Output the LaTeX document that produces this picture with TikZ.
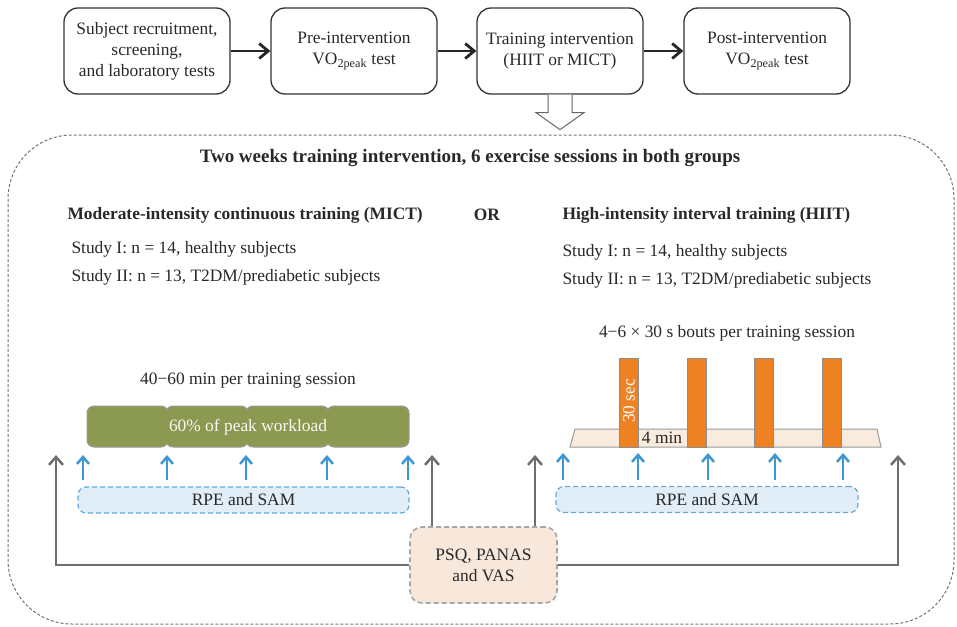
\documentclass[tikz,border=0pt]{standalone}
\usepackage{fontspec}
\setmainfont{Liberation Serif}
\usetikzlibrary{arrows.meta,calc}
\definecolor{txt}{RGB}{40,40,40}
\definecolor{olivebar}{RGB}{139,154,80}
\definecolor{bluearrow}{RGB}{62,150,210}
\definecolor{bluefill}{RGB}{226,238,247}
\definecolor{blueline}{RGB}{95,170,225}
\definecolor{grayarrow}{RGB}{110,110,110}
\definecolor{beige}{RGB}{249,235,222}
\definecolor{psqfill}{RGB}{247,232,219}
\definecolor{orangebar}{RGB}{238,129,34}
\tikzset{
  topbox/.style={draw=black!80, line width=1.3pt, rounded corners=14pt, minimum width=166pt, minimum height=86pt, align=center, inner sep=2pt, font=\fontsize{17.4}{21}\selectfont},
  bigarrow/.style={line width=2.8pt, draw=black!85, -{Straight Barb[length=9pt,width=15pt,line width=2.8pt]}},
  bluearr/.style={line width=2.5pt, draw=bluearrow, -{Straight Barb[length=7pt,width=12pt,line width=2.5pt]}},
  grayarr/.style={line width=2.5pt, draw=grayarrow, -{Straight Barb[length=8pt,width=14pt,line width=2.5pt]}},
  rpebox/.style={draw=blueline, fill=bluefill, dash pattern=on 5pt off 3pt, line width=1.2pt, rounded corners=8pt, minimum height=26pt, inner sep=0pt},
  psqbox/.style={draw=black!35, fill=psqfill, dash pattern=on 5pt off 3pt, line width=1.6pt, rounded corners=12pt, minimum width=147pt, minimum height=76pt, align=center, font=\fontsize{17.4}{21}\selectfont},
  seg/.style={draw=black!40, fill=olivebar, line width=1pt, rounded corners=7pt},
  bar/.style={draw=black!45, fill=orangebar, line width=1pt},
  heading/.style={anchor=west, font=\fontsize{17.4}{20}\bfseries\selectfont},
  plain/.style={anchor=west}
}
\begin{document}
\begin{tikzpicture}[x=1pt,y=-1pt, font=\fontsize{17.4}{20}\selectfont, text=txt]
\useasboundingbox (0,0) rectangle (957,626);

% top flow
\node[topbox] (b1) at (147,51) {Subject recruitment,\\screening,\\and laboratory tests};
\node[topbox] (b2) at (354,51) {Pre-intervention\\VO\textsubscript{2peak} test};
\node[topbox] (b3) at (560,51) {Training intervention\\(HIIT or MICT)};
\node[topbox] (b4) at (767,51) {Post-intervention\\VO\textsubscript{2peak} test};
\draw[bigarrow] (b1) -- (b2);
\draw[bigarrow] (b2) -- (b3);
\draw[bigarrow] (b3) -- (b4);

% hollow arrow
\draw[draw=black!60, fill=white, line width=1pt]
  ($(b3.south)+(-12,0)$) -- ++(0,18) -- ++(-12,0) -- ($(b3.south)+(0,35)$)
  -- ($(b3.south)+(24,18)$) -- ++(-12,0) -- ($(b3.south)+(12,0)$);

% outer dashed box
\draw[draw=black!55, line width=1pt, dash pattern=on 3pt off 2pt, rounded corners=64pt] (8,135) rectangle (954,624);

\node[font=\fontsize{19}{22}\bfseries\selectfont] (title) at (470,158) {Two weeks training intervention, 6 exercise sessions in both groups};

\node[heading] (hm) at (64,215) {Moderate-intensity continuous training (MICT)};
\node[font=\fontsize{17.4}{20}\bfseries\selectfont] (or) at (487,215) {OR};
\node[heading] (hh) at (559,215) {High-intensity interval training (HIIT)};

\node[plain] (m1) at (68,249) {Study I: n = 14, healthy subjects};
\node[plain] (m2) at (68,277) {Study II: n = 13, T2DM/prediabetic subjects};
\node[plain] (h1) at (559,252) {Study I: n = 14, healthy subjects};
\node[plain] (h2) at (559,280) {Study II: n = 13, T2DM/prediabetic subjects};

% MICT bar
\node (mlabel) at (248,381) {40−60 min per training session};
\foreach \a/\b in {87/168,166/248,246/329,327/409}
  \draw[seg] (\a,406) rectangle (\b,447);
\foreach \s in {167,247,328}
  \fill[olivebar] (\s-4,410) rectangle (\s+4,443);
\node[text=white!93!olivebar] (work) at (248,427) {60\% of peak workload};

% HIIT
\node (hlabel) at (727,333) {4−6 × 30 s bouts per training session};
\draw[draw=black!40, fill=beige, line width=1pt] (570,447) -- (575,429) -- (877,429) -- (881,447) -- cycle;
\foreach \a in {619,687,754,822}
  \draw[bar] (\a,358) rectangle (\a+19,447);
\node[text=white, rotate=90] (sec) at (629,401) {30 sec};
\node (fourmin) at (662,438) {4 min};

% RPE boxes
\node[rpebox, minimum width=331pt] (rpeL) at (243.5,500) {RPE and SAM};
\node[rpebox, minimum width=302pt] (rpeR) at (707,499.5) {RPE and SAM};

\foreach \x in {83,167,246,327,408}
  \draw[bluearr] (\x,480) -- (\x,455);
\foreach \x in {563,638,708,775,843}
  \draw[bluearr] (\x,480) -- (\x,453);

% PSQ box and gray arrows
\node[psqbox] (psq) at (483.5,565) {PSQ, PANAS\\and VAS};
\coordinate (g1) at (56,455);
\coordinate (g2) at (432,455);
\coordinate (g3) at (535,455);
\coordinate (g4) at (898,455);
\draw[grayarr] (psq.west) -| (g1);
\draw[grayarr] (psq.north -| g2) -- (g2);
\draw[grayarr] (psq.north -| g3) -- (g3);
\draw[grayarr] (psq.east) -| (g4);
\end{tikzpicture}
\end{document}
